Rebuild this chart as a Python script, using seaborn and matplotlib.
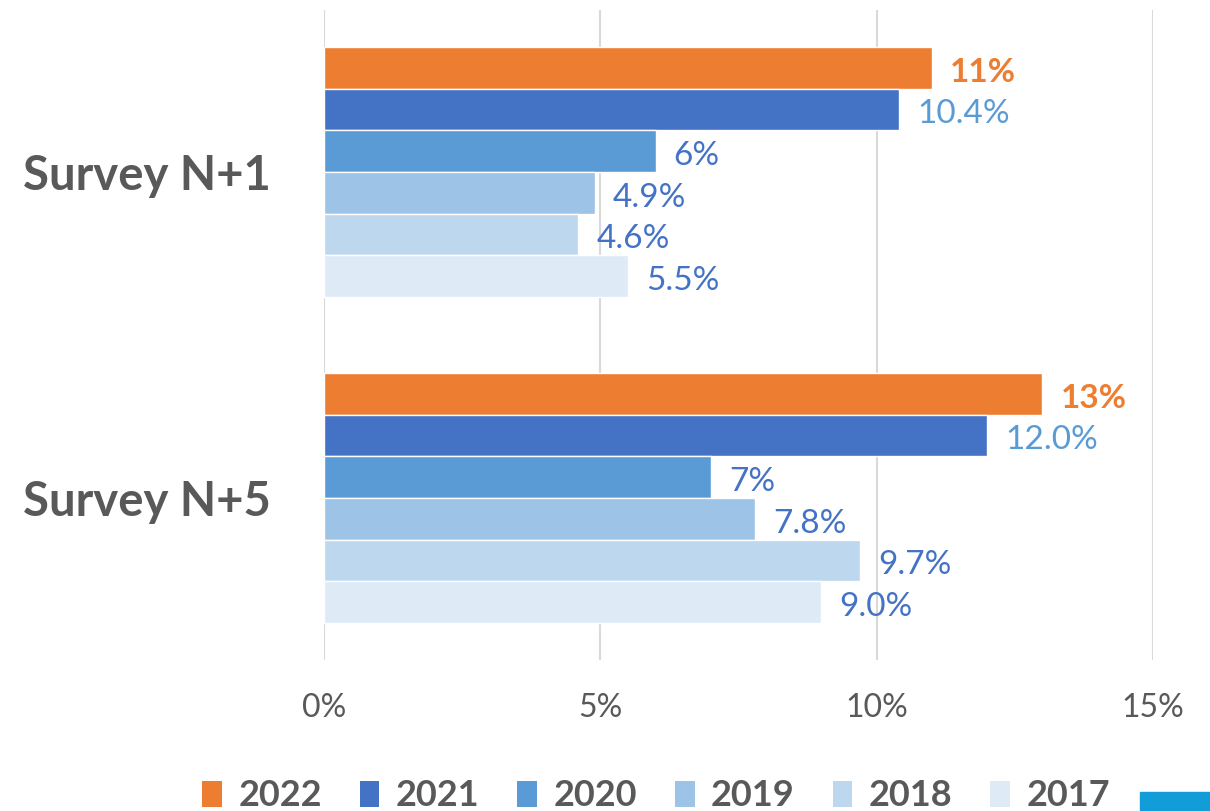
import pandas as pd
import matplotlib.pyplot as plt
import seaborn as sns
from matplotlib.patches import Patch

# Data
surveys = ["Survey N+1", "Survey N+5"]
years = ["2022", "2021", "2020", "2019", "2018", "2017"]
survey_n1 = [11.0, 10.4, 6.0, 4.9, 4.6, 5.5]
survey_n5 = [13.0, 12.0, 7.0, 7.8, 9.7, 9.0]
label_fmt = ["{:.0f}%", "{:.1f}%", "{:.0f}%", "{:.1f}%", "{:.1f}%", "{:.1f}%"]
xticks = [0, 5, 10, 15]

colors = ["#ED7D31", "#4472C4", "#5B9BD5", "#9DC3E6", "#BDD7EE", "#DEEBF7"]
label_colors = ["#ED7D31", "#5B9BD5", "#4472C4", "#4472C4", "#4472C4", "#4472C4"]
label_weights = ["bold", "normal", "normal", "normal", "normal", "normal"]
GREY = "#595959"

rows = []
for s, vals in zip(surveys, [survey_n1, survey_n5]):
    for y, v in zip(years, vals):
        rows.append({"survey": s, "year": y, "value": v})
df = pd.DataFrame(rows)

sns.set_theme(style="white")
plt.rcParams['font.family'] = ['Lato', 'DejaVu Sans']

fig = plt.figure(figsize=(12.1, 8.11), dpi=100)
ax = fig.add_axes([324 / 1210, 1 - 660 / 811, (1153 - 324) / 1210, 650 / 811])

sns.barplot(data=df, y="survey", x="value", hue="year", hue_order=years,
            order=surveys, palette=colors, orient="h", width=0.767,
            saturation=1, ax=ax, legend=False)

for i, cont in enumerate(ax.containers):
    labs = [label_fmt[i].format(v) for v in cont.datavalues]
    anns = ax.bar_label(cont, labels=labs, padding=13, color=label_colors[i],
                        fontsize=24, fontweight=label_weights[i])
    for a in anns:
        a.xyann = (13, -3.5)  # nudge down a little, like the original

ax.set_xlim(0, 15)
ax.set_ylim(1.497, -0.497)
ax.set_xticks(xticks)
ax.set_xticklabels([f"{t}%" for t in xticks])
ax.tick_params(axis="x", colors=GREY, labelsize=23, pad=24, length=0)
ax.tick_params(axis="y", colors=GREY, labelsize=34, pad=38, length=0)
for lab in ax.get_yticklabels():
    lab.set_fontweight("bold")
ax.set_xlabel("")
ax.set_ylabel("")
ax.grid(axis="x", color="#D9D9D9", linewidth=1.5)
ax.set_axisbelow(True)
for sp in ax.spines.values():
    sp.set_visible(False)

handles = [Patch(facecolor=c, edgecolor="none", label=y) for c, y in zip(colors, years)]
leg = fig.legend(handles=handles, loc="center", bbox_to_anchor=(656 / 1210, 1 - 796 / 811),
                 ncol=6, frameon=False, handlelength=0.55, handleheight=0.7,
                 handletextpad=0.45, columnspacing=1.05,
                 prop={"size": 26, "weight": "bold"})
for t in leg.get_texts():
    t.set_color(GREY)

# small blue block cut off in the bottom right corner
fig.patches.append(plt.Rectangle((1140 / 1210, 0), 70 / 1210, 19 / 811,
                                 transform=fig.transFigure, color="#129CD8"))

fig.savefig("out.png", dpi=100)
